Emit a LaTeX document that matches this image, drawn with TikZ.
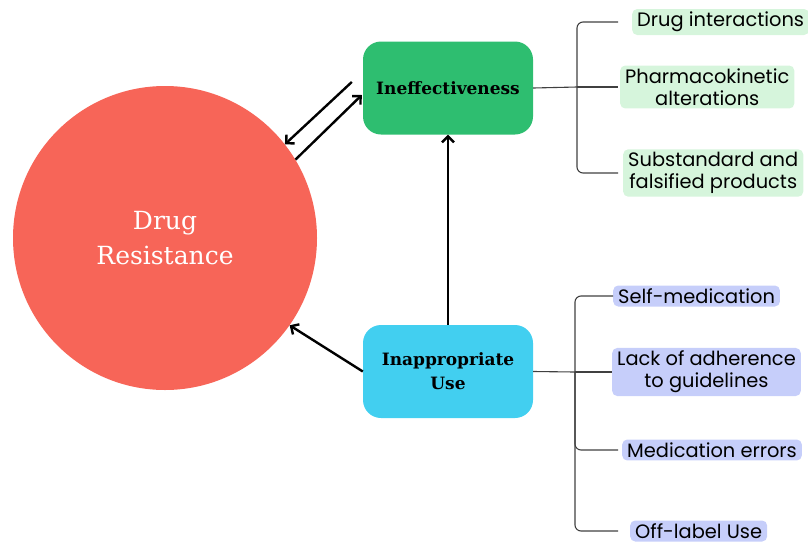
\documentclass[tikz,border=0pt]{standalone}
\usepackage{fontspec}
\setmainfont{DejaVu Serif}
\newfontfamily\branchfont{Poppins}
\usetikzlibrary{arrows.meta}

\definecolor{resred}{RGB}{247,101,88}
\definecolor{ineffgreen}{RGB}{46,190,112}
\definecolor{inappblue}{RGB}{66,207,240}
\definecolor{leafgreen}{RGB}{214,245,220}
\definecolor{leafblue}{RGB}{198,206,250}

\begin{document}
\begin{tikzpicture}[
        x=1pt, y=-1pt,
        core/.style={circle, fill=resred, text=white, minimum size=304pt, align=center,
            font=\fontsize{25}{35}\selectfont},
        cause/.style={rounded corners=18pt, minimum width=170pt, minimum height=93pt,
            align=center, font=\bfseries\fontsize{17}{24}\selectfont},
        leaf/.style={rounded corners=5pt, inner xsep=5pt, inner ysep=3pt, anchor=west,
            align=center, font=\branchfont\fontsize{19.4}{22}\selectfont},
        arr/.style={line width=2.4pt, -{Straight Barb[length=6pt,width=12pt]}},
        branch/.style={draw=black!75, line width=1.1pt, rounded corners=6pt},
    ]
        \useasboundingbox (0,0) rectangle (808,544);

        \node[core] (dr) at (165,238) {Drug\\Resistance};
        \node[cause, fill=ineffgreen] (ineff) at (448,88) {Ineffectiveness};
        \node[cause, fill=inappblue] (inapp) at (448,371.5) {Inappropriate\\Use};

        % arrows between the causes and the circle
        \draw[arr] ([shift={(-11,-6)}]ineff.west) -- (dr.38);
        \draw[arr] (dr.31) -- ([shift={(-1,7)}]ineff.west);
        \draw[arr] (inapp.west) -- (dr.-35);
        \draw[arr] (inapp.north) -- (ineff.south);

        % ineffectiveness branches
        \node[leaf, fill=leafgreen] (di) at (632,22) {Drug interactions};
        \node[leaf, fill=leafgreen] (pk) at (620,87) {Pharmacokinetic\\alterations};
        \node[leaf, fill=leafgreen] (sf) at (623,173) {Substandard and\\falsified products};
        \coordinate (gj) at (577,87);
        \draw[branch] (ineff.east) -- (gj);
        \draw[branch, shorten >=14pt] (gj) |- (di.west);
        \draw[branch, shorten >=2pt] (gj) -- (pk.west);
        \draw[branch, shorten >=5pt] (gj) |- (sf.west);

        % inappropriate use branches
        \node[leaf, fill=leafblue] (sm) at (613,296) {Self-medication};
        \node[leaf, fill=leafblue] (la) at (612,372) {Lack of adherence\\to guidelines};
        \node[leaf, fill=leafblue] (me) at (622,450) {Medication errors};
        \node[leaf, fill=leafblue] (ol) at (630,531) {Off-label Use};
        \coordinate (bj) at (575,372);
        \draw[branch] (inapp.east) -- (bj);
        \draw[branch] (bj) |- (sm.west);
        \draw[branch] (bj) -- (la.west);
        \draw[branch, shorten >=4pt] (bj) |- (me.west);
        \draw[branch, shorten >=12pt] (bj) |- (ol.west);
    \end{tikzpicture}
\end{document}
